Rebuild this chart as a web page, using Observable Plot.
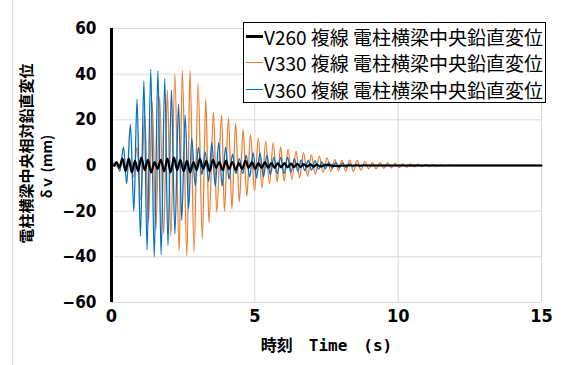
<!DOCTYPE html>
<html>
<head>
<meta charset="utf-8">
<script src="https://cdn.jsdelivr.net/npm/d3@7"></script>
<script src="https://cdn.jsdelivr.net/npm/@observablehq/plot@0.6"></script>
<style>
  html, body { margin: 0; padding: 0; background: #fff; }
  #wrap { position: relative; width: 585px; height: 365px; overflow: hidden; }
  #border { position: absolute; left: 12px; top: 0; width: 0; height: 365px; border-left: 1px solid #d9d9d9; }
  #legend { position: absolute; left: 243px; top: 22px; width: 301px; height: 79px; border: 1px solid #000; background: #fff;
            font-family: "Noto Sans CJK JP", "Noto Sans", sans-serif; font-size: 19px; color: #000; }
  .row { display: flex; align-items: center; height: 26.5px; white-space: nowrap; }
  .sw { display: inline-block; width: 17px; margin-left: 2px; margin-right: 1px; }
</style>
</head>
<body>
<div id="wrap">
  <div id="border"></div>
  <div id="chart"></div>
  <div id="legend"></div>
</div>
<script>
// ---- data ----
const seriesNames = ["V260 複線 電柱横梁中央鉛直変位", "V330 複線 電柱横梁中央鉛直変位", "V360 複線 電柱横梁中央鉛直変位"];
const seriesColors = ["#000000", "#ED7D31", "#0070C0"];
const xTicks = [0, 5, 10, 15];
const yTicks = [-60, -40, -20, 0, 20, 40, 60];

// extrema [time (s), displacement (mm)]
const v260 = [[0,0],[0.10,0],[0.18,1.5],[0.27,-1],[0.38,3],[0.49,-2.5],[0.60,3],[0.71,-3],[0.82,2],[0.93,-2.5],[1.04,3.5],[1.16,-2],[1.27,2.5],[1.38,-3],[1.50,1.5],[1.61,-1.5],[1.72,2.5],[1.84,-2.5],[1.95,3],[2.06,-3],[2.18,3.5],[2.29,-2],[2.40,2.5],[2.52,-2.5],[2.63,2],[2.74,-3],[2.86,1.5],[2.97,-2],[3.08,3],[3.20,-1.5],[3.31,2],[3.42,-2.5],[3.54,2.5],[3.65,-1],[3.76,1.5],[3.88,-2],[3.99,2],[4.10,-1.5],[4.22,1.5],[4.33,-2],[4.44,1],[4.56,-1.5],[4.67,2],[4.78,-1],[4.90,1.5],[5.01,-1.5],[5.12,1],[5.24,-1],[5.35,1.5],[5.46,-1],[5.58,1],[5.69,-1],[5.80,1],[5.92,-0.8],[6.03,1],[6.14,-0.8],[6.26,0.8],[6.37,-0.7],[6.48,0.7],[6.60,-0.6],[6.71,0.6],[6.82,-0.5],[6.94,0.5],[7.05,-0.5],[7.16,0.4],[7.28,-0.4],[7.50,0.3],[7.80,-0.2],[8.2,0],[15,0]];

const v330 = [[0,0],[0.23,-0.5],[0.36,1],[0.50,-1.5],[0.63,3],[0.76,-5],[0.89,8],[1.02,-15],[1.16,22],[1.29,-25],[1.42,28],[1.55,-28],[1.68,30],[1.82,-30],[1.95,33],[2.07,-31],[2.21,40],[2.36,-37.5],[2.47,41.5],[2.63,-39.5],[2.74,41.5],[2.88,-38],[3.02,36],[3.17,-32],[3.29,29],[3.40,-25],[3.56,23.5],[3.67,-20.5],[3.84,22],[3.94,-20],[4.08,21],[4.20,-19],[4.33,18.6],[4.46,-16],[4.59,15.7],[4.72,-13.4],[4.85,13.5],[4.99,-11.2],[5.12,12],[5.25,-9.8],[5.38,10.6],[5.51,-8],[5.64,10],[5.78,-7],[5.90,8.2],[6.02,-6.8],[6.16,7],[6.29,-6.1],[6.44,6.3],[6.56,-5.4],[6.70,5.5],[6.84,-4.7],[6.97,4.8],[7.11,-3.9],[7.25,4.1],[7.38,-3],[7.52,3.3],[7.65,-2.5],[7.79,2.6],[7.92,-2.2],[8.04,2.2],[8.17,-2.5],[8.31,2.3],[8.44,-2.6],[8.57,2.2],[8.70,-2],[8.84,1.7],[8.97,-1.5],[9.10,1.4],[9.23,-1.4],[9.37,1.2],[9.50,-1.2],[9.63,1.1],[9.76,-1],[9.90,0.9],[10.03,-0.9],[10.16,0.8],[10.29,-0.8],[10.43,0.7],[10.56,-0.6],[10.69,0.6],[10.82,-0.5],[10.96,0.5],[11.09,-0.4],[11.22,0.4],[11.35,-0.3],[11.49,0.3],[11.62,-0.2],[11.75,0.2],[12.0,0],[15,0]];

const v360 = [[0,0],[0.17,1.5],[0.29,-2.5],[0.42,8],[0.53,-8],[0.66,18],[0.78,-20],[0.89,29],[1.01,-31],[1.13,37],[1.24,-37],[1.37,42],[1.49,-40],[1.62,41.5],[1.73,-39],[1.86,38],[1.97,-35],[2.09,33],[2.21,-30],[2.34,27],[2.45,-24],[2.57,22],[2.69,-19],[2.80,12],[2.92,-9],[3.03,8],[3.15,-4],[3.27,6],[3.39,-7],[3.50,10],[3.62,-9],[3.74,10],[3.86,-9],[3.98,8],[4.10,-6],[4.22,5],[4.34,-3.5],[4.46,3],[4.58,-3.5],[4.70,4.5],[4.82,-5],[4.94,5.5],[5.06,-5.5],[5.18,5.5],[5.30,-5],[5.42,4.5],[5.54,-4],[5.66,3.5],[5.78,-3.5],[5.90,3.5],[6.02,-3.5],[6.14,3.5],[6.26,-3],[6.38,3],[6.50,-2.5],[6.62,2.5],[6.74,-2.2],[6.86,2.2],[6.98,-2],[7.10,2],[7.22,-1.6],[7.34,1.6],[7.46,-1.4],[7.58,1.4],[7.70,-1.2],[7.82,1.2],[7.94,-1],[8.06,1],[8.18,-0.8],[8.30,0.7],[8.42,-0.6],[8.54,0.5],[8.66,-0.4],[8.78,0.3],[9.0,0],[15,0]];

const yLabel1 = "電柱横梁中央相対鉛直変位";
const yLabel2 = "δｖ (mm)";
const xLabel = "時刻　Time　(s)";

const tickFont = "'Liberation Sans Narrow', 'DejaVu Sans Condensed', 'Roboto', sans-serif";
const cjkFont = "'Noto Sans CJK JP', sans-serif";

const chart = Plot.plot({
  width: 585,
  height: 365,
  marginLeft: 111,
  marginRight: 44,
  marginTop: 28,
  marginBottom: 63,
  style: { background: "transparent", overflow: "visible" },
  x: { domain: [0, 15] },
  y: { domain: [-60, 60] },
  marks: [
    Plot.gridY(yTicks, { stroke: "#d9d9d9", strokeOpacity: 1, strokeWidth: 1 }),
    Plot.gridX(xTicks.slice(1), { stroke: "#d9d9d9", strokeOpacity: 1, strokeWidth: 1 }),
    Plot.line(v330, { x: d => d[0], y: d => d[1], curve: "monotone-x", stroke: seriesColors[1], strokeWidth: 1.3 }),
    Plot.line(v360, { x: d => d[0], y: d => d[1], curve: "monotone-x", stroke: seriesColors[2], strokeWidth: 1.3 }),
    Plot.line(v260, { x: d => d[0], y: d => d[1], curve: "monotone-x", stroke: seriesColors[0], strokeWidth: 2.2 }),
    Plot.ruleX([0], { stroke: "#000", strokeWidth: 3 }),
    Plot.axisY({ ticks: yTicks, tickSize: 0, tickPadding: 15, label: null, fontSize: 17, fontWeight: "bold", fontFamily: tickFont }),
    Plot.axisX({ ticks: xTicks, tickSize: 0, tickPadding: 7, label: null, fontSize: 18, fontWeight: "bold", fontFamily: tickFont }),
    Plot.text([yLabel1], { frameAnchor: "left", text: d => d, rotate: -90, textAnchor: "middle", dx: -84, dy: -12, fontSize: 15, fontWeight: "bold", fontFamily: cjkFont, fill: "#000" }),
    Plot.text([yLabel2], { frameAnchor: "left", text: d => d, rotate: -90, textAnchor: "middle", dx: -64, dy: 1, fontSize: 14, fontWeight: "bold", fontFamily: cjkFont, fill: "#000" }),
    Plot.text([xLabel], { frameAnchor: "bottom", text: d => d, dy: 48, fontSize: 16, fontWeight: "bold", fontFamily: "'DejaVu Sans Mono', 'Noto Sans CJK JP', monospace", fill: "#000" })
  ]
});
document.getElementById("chart").appendChild(chart);

// legend
const legend = document.getElementById("legend");
seriesNames.forEach((name, i) => {
  const row = document.createElement("div");
  row.className = "row";
  const sw = document.createElement("span");
  sw.className = "sw";
  sw.style.borderTop = (i === 0 ? 3 : 1.2) + "px solid " + seriesColors[i];
  const tx = document.createElement("span");
  tx.textContent = name;
  row.appendChild(sw);
  row.appendChild(tx);
  legend.appendChild(row);
});
</script>
</body>
</html>
